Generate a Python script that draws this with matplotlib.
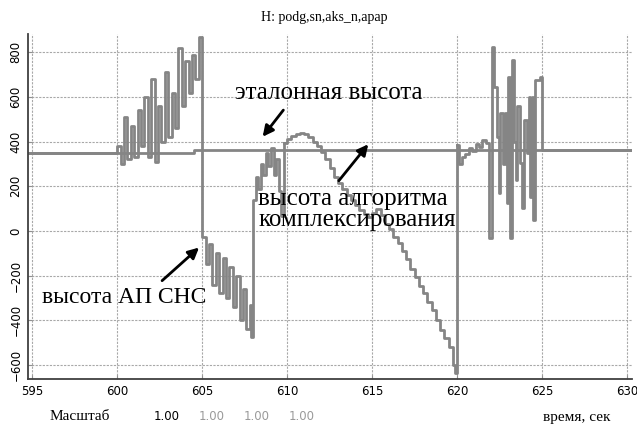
import numpy as np
import matplotlib
matplotlib.use("Agg")
import matplotlib.pyplot as plt

# эталонная высота
ref_t = [594.8, 604.5, 630.3]
ref_h = [348, 361, 361]

# высота АП СНС (до начала работы алгоритма)
snc_t = [594.8, 600.0, 600.2, 600.4, 600.6, 600.8, 601.0, 601.2, 601.4, 601.6, 601.8,
         602.0, 602.2, 602.4, 602.6, 602.8, 603.0, 603.2, 603.4, 603.6, 603.8,
         604.0, 604.2, 604.4, 604.6, 604.8,
         605.0, 605.2, 605.4, 605.6, 605.8, 606.0, 606.2, 606.4, 606.6, 606.8,
         607.0, 607.2, 607.4, 607.6, 607.8, 607.9,
         608.0, 608.15, 608.3, 608.45, 608.6, 608.75, 608.9, 609.05, 609.2, 609.35,
         609.5, 609.65]
snc_h = [348, 380, 300, 510, 320, 470, 330, 540, 380, 600, 330,
         680, 310, 560, 400, 710, 420, 620, 460, 820, 560,
         760, 620, 790, 680, 870,
         -26, -150, -60, -240, -100, -280, -120, -300, -160, -340,
         -200, -400, -260, -440, -330, -477,
         140, 243, 190, 300, 250, 350, 290, 372, 250, 320,
         180, 65]

# высота алгоритма комплексирования
alg_t = [609.8, 610.0, 610.25, 610.5, 610.75, 611.0, 611.25, 611.5, 611.75, 612.0,
         612.25, 612.5, 612.75, 613.0, 613.25, 613.5, 613.75, 614.0, 614.25, 614.5,
         614.75, 615.0, 615.25, 615.5, 615.75, 616.0, 616.25, 616.5, 616.75, 617.0,
         617.25, 617.5, 617.75, 618.0, 618.25, 618.5, 618.75, 619.0, 619.25, 619.5,
         619.75, 619.9]
alg_h = [394, 410, 425, 432, 438, 432, 420, 400, 380, 352,
         320, 282, 243, 215, 188, 160, 140, 118, 95, 75,
         62, 80, 98, 70, 30, 10, -25, -55, -90, -125,
         -170, -205, -245, -280, -320, -355, -400, -445, -480, -520,
         -600, -634]

# высота АП СНС после 620 с
snc2_t = [620.0, 620.1, 620.3, 620.5, 620.7, 620.9, 621.1, 621.3, 621.5, 621.7,
          621.9, 622.05, 622.2, 622.35, 622.45, 622.55, 622.7, 622.84, 622.94, 623.03,
          623.13, 623.23, 623.33, 623.45, 623.55, 623.72, 623.82, 623.95, 624.1, 624.21,
          624.31, 624.41, 624.5, 624.6, 624.9, 625.0, 630.3]
snc2_h = [385, 300, 330, 345, 370, 360, 390, 375, 408, 395,
          -32, 825, 646, 420, 169, 527, 300, 527, 125, 691,
          -32, 766, 400, 230, 560, 304, 102, 497, 350, 601,
          150, 601, 50, 676, 690, 363, 363]

x_ticks = [595, 600, 605, 610, 615, 620, 625, 630]
y_ticks = [-600, -400, -200, 0, 200, 400, 600, 800]
scale_vals = ["1.00", "1.00", "1.00", "1.00"]

W, H = 637, 426
fig = plt.figure(figsize=(W / 100, H / 100), dpi=100)
ax = fig.add_axes([28 / W, 1 - 379 / H, (632 - 28) / W, (379 - 34) / H])

line_col = "#858585"
ax.plot(ref_t, ref_h, color=line_col, lw=2.0, drawstyle="steps-post")
ax.plot(snc_t + [alg_t[0]], snc_h + [alg_h[0]], color=line_col, lw=2.0, drawstyle="steps-post")
ax.plot(alg_t + [snc2_t[0]], alg_h + [snc2_h[0]], color=line_col, lw=2.0, drawstyle="steps-post")
ax.plot(snc2_t, snc2_h, color=line_col, lw=2.0, drawstyle="steps-post")

ax.set_xlim(594.75, 630.3)
ax.set_ylim(-663, 882)
ax.set_xticks(x_ticks)
ax.set_yticks(y_ticks)
ax.grid(True, color="#a8a8a8", ls=(0, (2, 1.2)), lw=0.8)
for s in ["top", "right"]:
    ax.spines[s].set_visible(False)
for s in ["left", "bottom"]:
    ax.spines[s].set_color("#404040")
    ax.spines[s].set_linewidth(1.3)

tick_font = ["Liberation Sans Narrow", "DejaVu Sans"]
ax.tick_params(direction="in", length=3, color="#909090", labelsize=8.5, pad=4)
for lab in ax.get_xticklabels():
    lab.set_family(tick_font)
for lab in ax.get_yticklabels():
    lab.set_family(tick_font)
    lab.set_rotation(90)
    lab.set_va("center")

serif = ["Liberation Serif", "DejaVu Serif"]
fig.text(324 / W, 1 - 18 / H, "H: podg,sn,aks_n,apap", family=serif, fontsize=10,
         ha="center", va="center")

# подписи и стрелки
ax.text(606.94, 618, "эталонная высота", family=serif, fontsize=18, ha="left", va="center")
ax.annotate("", xy=(608.46, 412), xytext=(609.88, 551),
            arrowprops=dict(arrowstyle="-|>", color="black", lw=2, mutation_scale=16))
ax.text(608.29, 95, "высота алгоритма\nкомплексирования", family=serif, fontsize=18,
        ha="left", va="center", linespacing=0.95)
ax.annotate("", xy=(614.88, 398), xytext=(612.94, 215),
            arrowprops=dict(arrowstyle="-|>", color="black", lw=2, mutation_scale=16))
ax.text(595.57, -299, "высота АП СНС", family=serif, fontsize=17, ha="left", va="center")
ax.annotate("", xy=(604.94, -66), xytext=(602.52, -231),
            arrowprops=dict(arrowstyle="-|>", color="black", lw=2, mutation_scale=16))

# нижняя строка
fig.text(80 / W, 1 - 417 / H, "Масштаб", family=serif, fontsize=11, ha="center", va="center")
scale_x = [167, 212, 257, 302]
scale_c = ["black", "#9a9a9a", "#9a9a9a", "#9a9a9a"]
for xs, txt, c in zip(scale_x, scale_vals, scale_c):
    fig.text(xs / W, 1 - 417 / H, txt, family=tick_font, fontsize=8.5, color=c,
             ha="center", va="center")
fig.text(577 / W, 1 - 417 / H, "время, сек", family=serif, fontsize=11, ha="center", va="center")

fig.savefig("out.png", dpi=100)
